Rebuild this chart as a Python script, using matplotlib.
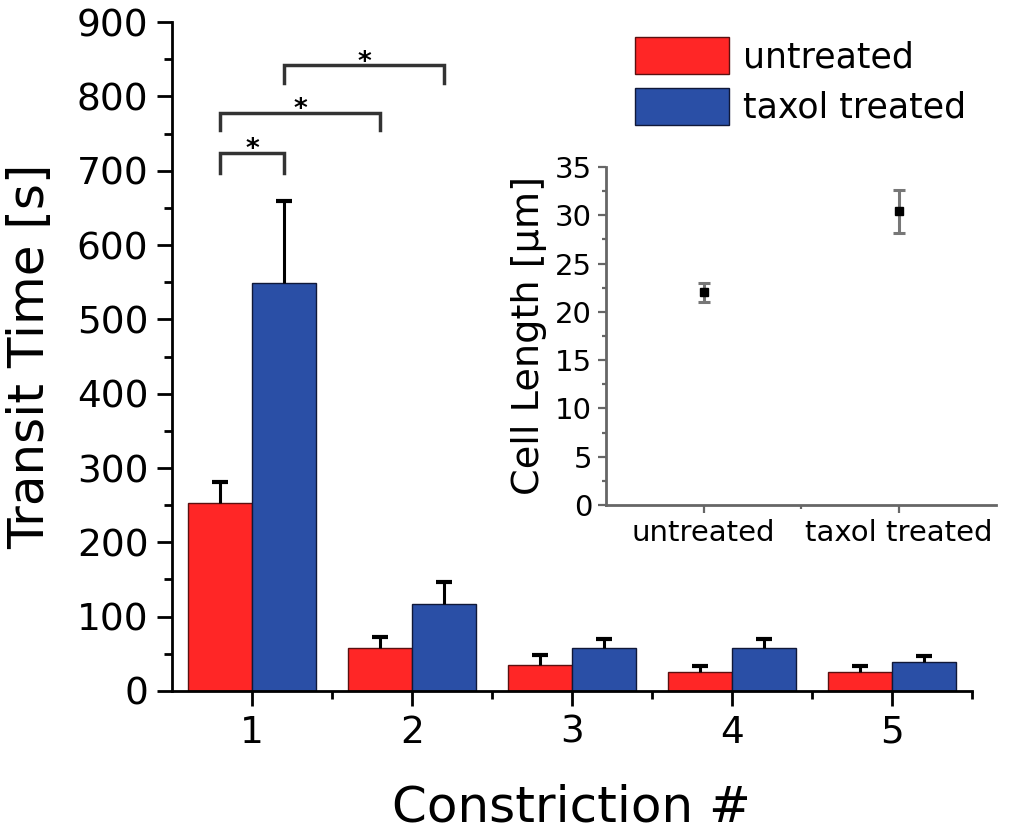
import numpy as np
import matplotlib
matplotlib.use("Agg")
import matplotlib.pyplot as plt
from matplotlib.ticker import MultipleLocator, FixedLocator

# -----------------------------------------------------------------------------
# data
# -----------------------------------------------------------------------------
constrictions = [1, 2, 3, 4, 5]
untreated_mean = [253, 58, 35, 25, 25]
untreated_err = [28, 14, 14, 9, 9]
taxol_mean = [549, 117, 58, 58, 39]
taxol_err = [110, 30, 12, 12, 8]

# significance brackets: (left bar x, right bar x, bar height, leg bottom)
brackets = [
    (0.8, 1.2, 724, 697),
    (0.8, 1.8, 778, 755),
    (1.2, 2.2, 842, 818),
]

# inset: cell length
cell_groups = ["untreated", "taxol treated"]
cell_length = [22.0, 30.4]
cell_err = [1.0, 2.2]

RED = "#ff2626"
BLUE = "#2a4fa6"

plt.rcParams["font.family"] = ["DejaVu Sans"]

fig = plt.figure(figsize=(10.24, 8.33), dpi=100)
ax = fig.add_axes([0.168, 0.1705, 0.781, 0.803])

x = np.array(constrictions, dtype=float)
w = 0.4
groups = [
    (x - w / 2, untreated_mean, untreated_err, RED, "#5a1010", "untreated"),
    (x + w / 2, taxol_mean, taxol_err, BLUE, "#101838", "taxol treated"),
]
for xs, mean, err, col, edge, lab in groups:
    ax.bar(xs, mean, width=w, color=col, edgecolor=edge, linewidth=1.0,
           label=lab, zorder=2)
    tops = np.array(mean) + np.array(err)
    # one-sided (upper) error bars
    ax.vlines(xs, mean, tops, color="black", lw=2.2, zorder=3)
    ax.plot(xs, tops, ls="none", marker="_", ms=12, mew=3, color="black",
            zorder=3)

for x1, x2, top, bot in brackets:
    ax.plot([x1, x1, x2, x2], [bot, top, top, bot], color="#333333", lw=2.5,
            solid_joinstyle="miter")
    ax.text((x1 + x2) / 2, top - 6, "*", ha="center", va="baseline",
            fontsize=19, fontweight="bold", color="black")

ax.set_xlim(0.5, 5.5)
ax.set_ylim(0, 900)
ax.set_xticks(constrictions)
ax.xaxis.set_minor_locator(FixedLocator([1.5, 2.5, 3.5, 4.5, 5.5]))
ax.yaxis.set_major_locator(MultipleLocator(100))
ax.yaxis.set_minor_locator(MultipleLocator(50))
ax.tick_params(axis="both", which="major", direction="out", length=11,
               width=2, labelsize=27, pad=6)
ax.tick_params(axis="both", which="minor", direction="out", length=6, width=2)
for s in ["top", "right"]:
    ax.spines[s].set_visible(False)
for s in ["left", "bottom"]:
    ax.spines[s].set_linewidth(2)
ax.set_ylabel("Transit Time [s]", fontsize=36, labelpad=16)
ax.set_xlabel("Constriction #", fontsize=36, labelpad=24)

fig.legend(loc="upper left", bbox_to_anchor=(635 / 1024, 1 - 37 / 833),
           frameon=False, fontsize=25, handlelength=2.7, handleheight=1.25,
           handletextpad=0.4, labelspacing=0.4, borderpad=0, borderaxespad=0)

# inset
ins = fig.add_axes([0.5918, 0.3938, 0.3809, 0.4058])
ins.errorbar([1, 2], cell_length, yerr=cell_err, fmt="s", color="black",
             markersize=6, ecolor="#777777", elinewidth=2.2, capsize=4,
             capthick=2.2)
ins.set_xlim(0.5, 2.5)
ins.set_ylim(0, 35)
ins.set_xticks([1, 2])
ins.set_xticklabels(cell_groups)
ins.xaxis.set_minor_locator(FixedLocator([1.5]))
ins.yaxis.set_major_locator(MultipleLocator(5))
ins.yaxis.set_minor_locator(MultipleLocator(2.5))
ins.tick_params(axis="both", which="major", direction="out", length=6,
                width=1.6, color="#666666", labelsize=21, pad=4)
ins.tick_params(axis="both", which="minor", direction="out", length=3,
                width=1.6, color="#666666")
for s in ["top", "right"]:
    ins.spines[s].set_visible(False)
for s in ["left", "bottom"]:
    ins.spines[s].set_color("#666666")
    ins.spines[s].set_linewidth(2)
ins.patch.set_alpha(0)
ins.set_ylabel("Cell Length [µm]", fontsize=27.5, labelpad=6)

fig.savefig("out.png", dpi=100)
